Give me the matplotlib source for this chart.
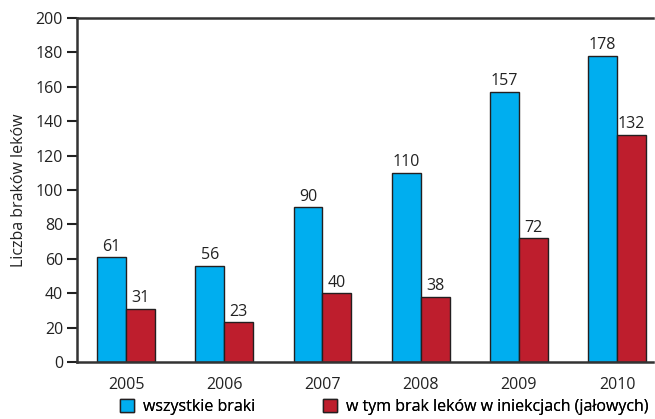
import matplotlib
matplotlib.use("Agg")
import matplotlib.pyplot as plt
from matplotlib.patches import Patch
import numpy as np

years = ["2005", "2006", "2007", "2008", "2009", "2010"]
all_shortages = [61, 56, 90, 110, 157, 178]
injection_shortages = [31, 23, 40, 38, 72, 132]
series_labels = ["wszystkie braki", "w tym brak leków w iniekcjach (jałowych)"]
y_label = "Liczba braków leków"

BLUE = "#00AEEF"
RED = "#BE1E2D"
EDGE = "#231F20"
FS = 11.5

plt.rcParams["font.family"] = ["Open Sans", "DejaVu Sans"]
plt.rcParams["font.size"] = FS

fig = plt.figure(figsize=(6.55, 4.19), dpi=100)
ax = fig.add_axes([77 / 655, 1 - 362 / 419, (653 - 77) / 655, (362 - 18) / 419])

x = np.arange(len(years))
w = 0.295
b1 = ax.bar(x - w / 2, all_shortages, w, color=BLUE, edgecolor=EDGE, linewidth=1)
b2 = ax.bar(x + w / 2, injection_shortages, w, color=RED, edgecolor=EDGE, linewidth=1)

for bars, vals in ((b1, all_shortages), (b2, injection_shortages)):
    for bar, v in zip(bars, vals):
        ax.text(bar.get_x() + bar.get_width() / 2, v + 1.5, str(v),
                ha="center", va="bottom", fontsize=FS, color="#222222")

ax.set_xlim(-0.5, 5.366)
ax.set_ylim(0, 200)
ax.set_yticks(range(0, 201, 20))
ax.set_xticks(x)
ax.set_xticklabels(years)
ax.tick_params(axis="x", length=0, pad=11, labelsize=FS, colors="#222222")
ax.tick_params(axis="y", length=7, width=1.5, direction="out", labelsize=FS,
               colors="#222222", pad=3)
for side in ("left", "bottom", "top"):
    ax.spines[side].set_color("#333333")
    ax.spines[side].set_linewidth(1.8)
ax.spines["right"].set_visible(False)
ax.set_ylabel(y_label, fontsize=FS, color="#222222", labelpad=6)

# two separate legend entries, placed like the original
colors = [BLUE, RED]
x_starts = [120, 323]
for color, label, xs in zip(colors, series_labels, x_starts):
    handle = Patch(facecolor=color, edgecolor=EDGE, linewidth=1)
    leg = fig.legend([handle], [label], loc="center left", frameon=False,
                     bbox_to_anchor=(xs / 655, 1 - 407 / 419), fontsize=FS,
                     handlelength=0.85, handleheight=0.85, handletextpad=0.6,
                     borderpad=0, borderaxespad=0)
    fig.add_artist(leg)

fig.savefig("out.png", dpi=100)
